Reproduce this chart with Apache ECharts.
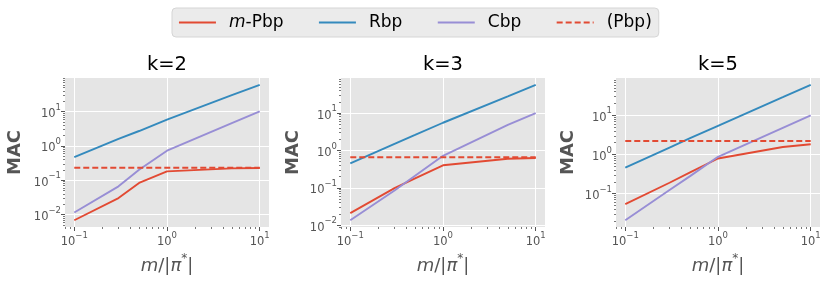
<!DOCTYPE html>
<html><head><meta charset="utf-8">
<script src="https://cdn.jsdelivr.net/npm/echarts@6/dist/echarts.min.js"></script>
<style>html,body{margin:0;padding:0;background:#fff}#c{width:830px;height:283px}</style>
</head><body><div id="c"></div>
<script>
// ---- data ----
const xValues = [0.1, 0.3, 0.5, 1, 5, 10];
const panelTitles = ['k=2', 'k=3', 'k=5'];
const seriesNames = ['m-Pbp', 'Rbp', 'Cbp', '(Pbp)'];

const mPbp_k2 = [0.0068, 0.03, 0.083, 0.18, 0.22, 0.225];
const Rbp_k2  = [0.47, 1.6, 2.7, 5.8, 30, 60];
const Cbp_k2  = [0.0114, 0.066, 0.2, 0.72, 4.6, 10];
const Pbp_k2  = 0.23;

const mPbp_k3 = [0.021, 0.098, 0.18, 0.4, 0.6, 0.63];
const Rbp_k3  = [0.45, 1.5, 2.6, 5.5, 28, 57];
const Cbp_k3  = [0.0136, 0.085, 0.21, 0.72, 4.8, 10];
const Pbp_k3  = 0.66;

const mPbp_k5 = [0.054, 0.19, 0.35, 0.79, 1.55, 1.82];
const Rbp_k5  = [0.46, 1.5, 2.6, 5.4, 29, 60];
const Cbp_k5  = [0.021, 0.124, 0.28, 0.87, 4.8, 10];
const Pbp_k5  = 2.2;

const majorYTicks = [0.001, 0.01, 0.1, 1, 10, 100];
const majorXTicks = [0.01, 0.1, 1, 10, 100];

// ---- styling / layout ----
const FONT = 'DejaVu Sans';
const colors = ['#E24A33', '#348ABD', '#988ED5', '#E24A33'];
const gridLefts = [65, 341, 616];
const gridTop = 78, gridW = 204, gridH = 149;
const yNameGaps = [41, 39, 39];

const panels = [
  [mPbp_k2, Rbp_k2, Cbp_k2, Pbp_k2],
  [mPbp_k3, Rbp_k3, Cbp_k3, Pbp_k3],
  [mPbp_k5, Rbp_k5, Cbp_k5, Pbp_k5]
];

function minorTicks(e0, e1) {
  const out = [];
  for (let e = e0; e <= e1; e++) for (let k = 2; k <= 9; k++) out.push(parseFloat((k * Math.pow(10, e)).toPrecision(6)));
  return out;
}
const minorY = minorTicks(-4, 2);
const minorX = minorTicks(-3, 2);

function logRange(vals) {
  const lo = Math.log10(Math.min(...vals)), hi = Math.log10(Math.max(...vals));
  const m = 0.05 * (hi - lo);
  return [Math.pow(10, lo - m), Math.pow(10, hi + m)];
}

function powLabel(v) {
  const e = Math.round(Math.log10(v));
  return '{b|10}{s|' + (e < 0 ? '\u2212' : '') + Math.abs(e) + '}';
}
const tickRich = {
  b: {fontFamily: FONT, fontSize: 11.5, color: '#555', lineHeight: 17, verticalAlign: 'bottom'},
  s: {fontFamily: FONT, fontSize: 8.5, color: '#555', verticalAlign: 'top', lineHeight: 10}
};

const xr = logRange(xValues);

const grids = [], majorX = [], majorY = [], minorXAxes = [], minorYAxes = [], series = [], titles = [];
panels.forEach((p, i) => {
  grids.push({left: gridLefts[i], top: gridTop, width: gridW, height: gridH, show: true,
    backgroundColor: '#E5E5E5', borderWidth: 0});
  titles.push({text: panelTitles[i], left: gridLefts[i] + gridW / 2, top: 55, textAlign: 'center', padding: 0,
    textStyle: {fontFamily: FONT, fontSize: 19.5, fontWeight: 'normal', color: '#000'}});
  const yr = logRange([].concat(p[0], p[1], p[2], [p[3]]));
  majorX.push({type: 'log', gridIndex: i, min: xr[0], max: xr[1], position: 'bottom',
    axisLine: {show: false},
    axisTick: {show: true, length: 4, lineStyle: {color: '#555', width: 1}, customValues: majorXTicks},
    axisLabel: {customValues: majorXTicks, formatter: powLabel, rich: tickRich, margin: 4},
    splitLine: {show: true, lineStyle: {color: '#fff', width: 1}},
    name: '{i|m}{n|/|}{i|\u03c0}{s|*}{n||}', nameLocation: 'middle', nameGap: 23,
    nameTextStyle: {fontFamily: FONT, fontSize: 18, color: '#555', rich: {
      i: {fontFamily: FONT, fontSize: 18, fontStyle: 'italic', color: '#555', lineHeight: 22, verticalAlign: 'bottom'},
      n: {fontFamily: FONT, fontSize: 18, color: '#555', lineHeight: 22, verticalAlign: 'bottom'},
      s: {fontFamily: FONT, fontSize: 12, color: '#555', verticalAlign: 'top', lineHeight: 12}
    }}
  });
  majorY.push({type: 'log', gridIndex: i, min: yr[0], max: yr[1], position: 'left',
    axisLine: {show: false},
    axisTick: {show: true, length: 4, lineStyle: {color: '#555', width: 1}, customValues: majorYTicks},
    axisLabel: {customValues: majorYTicks, formatter: powLabel, rich: tickRich, margin: 4},
    splitLine: {show: true, lineStyle: {color: '#fff', width: 1}},
    name: 'MAC', nameLocation: 'middle', nameGap: yNameGaps[i],
    nameTextStyle: {fontFamily: FONT, fontSize: 18, fontWeight: 'bold', color: '#555'}
  });
  minorXAxes.push({type: 'log', gridIndex: i, min: xr[0], max: xr[1], position: 'bottom',
    axisLine: {show: false}, axisLabel: {show: false}, splitLine: {show: false},
    axisTick: {show: true, length: 2, lineStyle: {color: '#555', width: 0.8}, customValues: minorX}});
  minorYAxes.push({type: 'log', gridIndex: i, min: yr[0], max: yr[1], position: 'left',
    axisLine: {show: false}, axisLabel: {show: false}, splitLine: {show: false},
    axisTick: {show: true, length: 2, lineStyle: {color: '#555', width: 0.8}, customValues: minorY}});
  const mk = (k, data, extra) => ({name: seriesNames[k], type: 'line', xAxisIndex: i, yAxisIndex: i,
    symbol: 'none', data: data, z: 2 + k,
    lineStyle: Object.assign({color: colors[k], width: 1.9}, extra || {}), itemStyle: {color: colors[k]}});
  series.push(
    mk(0, xValues.map((x, j) => [x, p[0][j]])),
    mk(1, xValues.map((x, j) => [x, p[1][j]])),
    mk(2, xValues.map((x, j) => [x, p[2][j]])),
    mk(3, xValues.map(x => [x, p[3]]), {type: [6, 3]})
  );
});

const chart = echarts.init(document.getElementById('c'), null, {renderer: 'canvas'});
chart.setOption({
  animation: false,
  textStyle: {fontFamily: FONT},
  title: titles,
  legend: {
    data: seriesNames, left: 172, top: 8, orient: 'horizontal',
    itemWidth: 37, itemHeight: 20, itemGap: 34.5,
    padding: [6, 7, 6, 6],
    backgroundColor: '#EBEBEB', borderColor: '#D5D5D5', borderWidth: 1, borderRadius: 4,
    itemStyle: {opacity: 0},
    lineStyle: {width: 1.9},
    textStyle: {fontFamily: FONT, fontSize: 17, color: '#000', padding: [0, 0, 0, 8],
      rich: {i: {fontFamily: FONT, fontSize: 17, fontStyle: 'italic', color: '#000'},
             n: {fontFamily: FONT, fontSize: 17, color: '#000'}}},
    formatter: name => name === 'm-Pbp' ? '{i|m}{n|-Pbp}' : name
  },
  grid: grids,
  xAxis: majorX.concat(minorXAxes),
  yAxis: majorY.concat(minorYAxes),
  series: series
});
</script></body></html>
